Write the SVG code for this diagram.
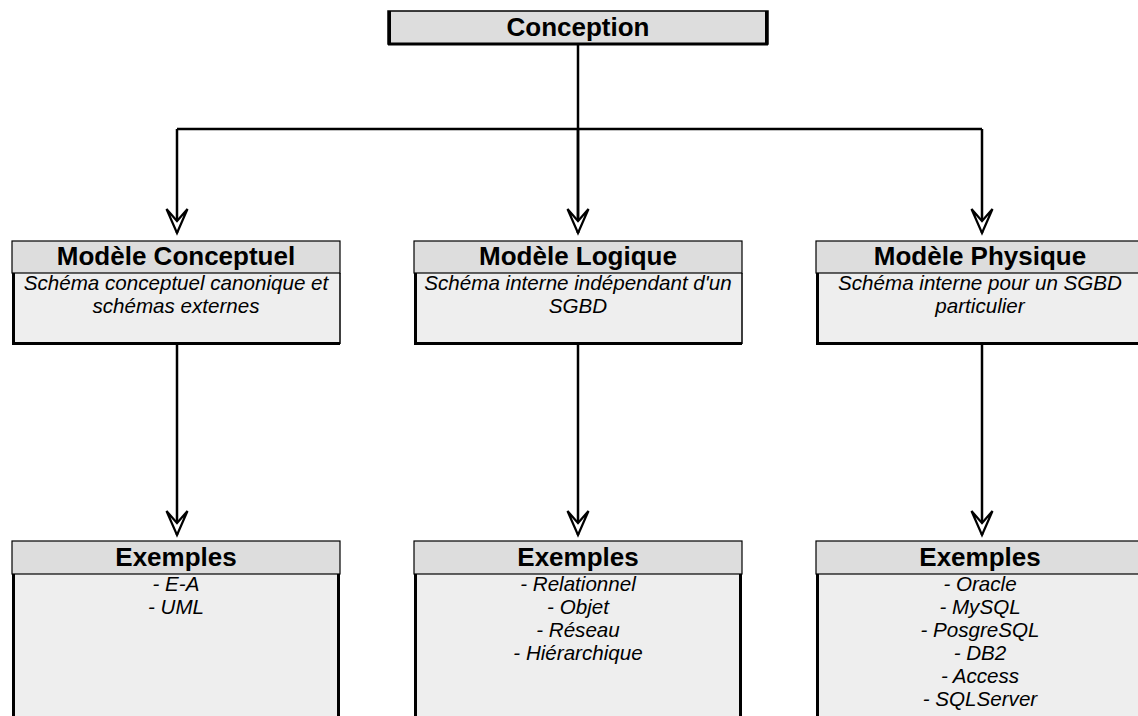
<svg xmlns="http://www.w3.org/2000/svg" width="1138" height="716" viewBox="0 0 1138 716">
  <style>
    .hdr { fill: #dddddd; stroke: #000; stroke-width: 1.2; }
    .body { fill: #eeeeee; stroke: none; }
    .edge { stroke: #000; stroke-width: 3; fill: none; }
    .thin { stroke: #000; stroke-width: 1.5; fill: none; }
    .title { font-family: "Liberation Sans", Arial, sans-serif; font-weight: bold; font-size: 26px; text-anchor: middle; fill: #000; }
    .item { font-family: "Liberation Sans", Arial, sans-serif; font-style: italic; font-size: 20.6px; text-anchor: middle; fill: #000; }
    .wire { stroke: #000; stroke-width: 2.5; fill: none; }
  </style>
  <defs>
    <marker id="openArrow" markerUnits="userSpaceOnUse" viewBox="-27 -13 30 26" refX="0" refY="0" markerWidth="30" markerHeight="26" orient="auto" overflow="visible">
      <path d="M0,0 L-24,-10.5 L-12,0 L-24,10.5 Z" fill="#fff" stroke="#000" stroke-width="2.2" stroke-linejoin="miter"/>
    </marker>
  </defs>

  <rect width="1138" height="716" fill="#fff"/>

  <!-- connectors -->
  <g id="connectors">
    <path class="wire" d="M578,44 V233"/>
    <path class="wire" d="M177,129 H982"/>
    <path class="wire" d="M177,129 V233" marker-end="url(#openArrow)"/>
    <path class="wire" d="M578,129 V233" marker-end="url(#openArrow)"/>
    <path class="wire" d="M982,129 V233" marker-end="url(#openArrow)"/>
    <path class="wire" d="M177,344 V535" marker-end="url(#openArrow)"/>
    <path class="wire" d="M578,344 V535" marker-end="url(#openArrow)"/>
    <path class="wire" d="M982,344 V535" marker-end="url(#openArrow)"/>
  </g>

  <!-- root -->
  <g id="conception">
    <rect x="388" y="11" width="380" height="33" fill="#dddddd" stroke="#000" stroke-width="1.5"/>
    <path class="edge" d="M389.5,11 V44 H766.5 V11"/>
    <text class="title" x="578" y="36">Conception</text>
  </g>

  <!-- level 1 -->
  <g id="modele-conceptuel">
    <rect class="body" x="12" y="273" width="328" height="71"/>
    <path class="edge" d="M13.5,273 V343.5 H340"/>
    <path class="thin" d="M340,273 V344"/>
    <rect class="hdr" x="12" y="241" width="328" height="32"/>
    <text class="title" x="176" y="265">Modèle Conceptuel</text>
    <text class="item" x="176" y="290">Schéma conceptuel canonique et</text>
    <text class="item" x="176" y="313">schémas externes</text>
  </g>

  <g id="modele-logique">
    <rect class="body" x="414" y="273" width="328" height="71"/>
    <path class="edge" d="M415.5,273 V343.5 H742"/>
    <path class="thin" d="M742,273 V344"/>
    <rect class="hdr" x="414" y="241" width="328" height="32"/>
    <text class="title" x="578" y="265">Modèle Logique</text>
    <text class="item" x="578" y="290">Schéma interne indépendant d'un</text>
    <text class="item" x="578" y="313">SGBD</text>
  </g>

  <g id="modele-physique">
    <rect class="body" x="816" y="273" width="330" height="71"/>
    <path class="edge" d="M817.5,273 V343.5 H1146"/>
    <rect class="hdr" x="816" y="241" width="330" height="32"/>
    <text class="title" x="980" y="265">Modèle Physique</text>
    <text class="item" x="980" y="290">Schéma interne pour un SGBD</text>
    <text class="item" x="980" y="313">particulier</text>
  </g>

  <!-- level 2 -->
  <g id="exemples-conceptuel">
    <rect class="body" x="12" y="574" width="328" height="150"/>
    <path class="edge" d="M13.5,574 V724 M338.5,574 V724"/>
    <rect class="hdr" x="12" y="541" width="328" height="33"/>
    <text class="title" x="176" y="566">Exemples</text>
    <text class="item" x="176" y="591">- E-A</text>
    <text class="item" x="176" y="614">- UML</text>
  </g>

  <g id="exemples-logique">
    <rect class="body" x="414" y="574" width="328" height="150"/>
    <path class="edge" d="M415.5,574 V724 M740.5,574 V724"/>
    <rect class="hdr" x="414" y="541" width="328" height="33"/>
    <text class="title" x="578" y="566">Exemples</text>
    <text class="item" x="578" y="591">- Relationnel</text>
    <text class="item" x="578" y="614">- Objet</text>
    <text class="item" x="578" y="637">- Réseau</text>
    <text class="item" x="578" y="660">- Hiérarchique</text>
  </g>

  <g id="exemples-physique">
    <rect class="body" x="816" y="574" width="330" height="150"/>
    <path class="edge" d="M817.5,574 V724"/>
    <rect class="hdr" x="816" y="541" width="330" height="33"/>
    <text class="title" x="980" y="566">Exemples</text>
    <text class="item" x="980" y="591">- Oracle</text>
    <text class="item" x="980" y="614">- MySQL</text>
    <text class="item" x="980" y="637">- PosgreSQL</text>
    <text class="item" x="980" y="660">- DB2</text>
    <text class="item" x="980" y="683">- Access</text>
    <text class="item" x="980" y="706">- SQLServer</text>
  </g>
</svg>
